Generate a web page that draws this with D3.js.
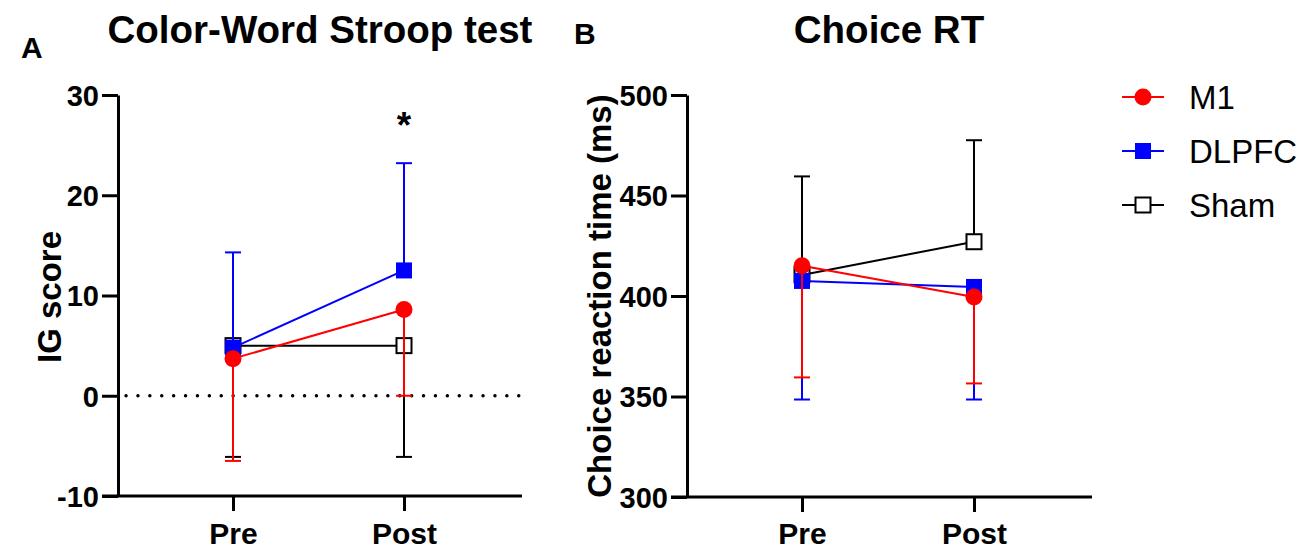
<!DOCTYPE html>
<html>
<head>
<meta charset="utf-8">
<script src="https://cdn.jsdelivr.net/npm/d3@7"></script>
<style>
  html, body { margin: 0; padding: 0; background: #fff; }
  svg text { font-family: "Liberation Sans", Arial, sans-serif; }
</style>
</head>
<body>
<svg id="chart" width="1299" height="550"></svg>
<script>
// Time points
const timepoints = ["Pre", "Post"];
const groups = ["M1", "DLPFC", "Sham"];

// Panel A: Color-Word Stroop interference (IG score), mean and one-sided SD
const stroopM1 = [3.7, 8.6];
const stroopM1Err = [-6.5, 0.0];
const stroopDLPFC = [4.8, 12.5];
const stroopDLPFCErr = [14.3, 23.2];
const stroopSham = [5.0, 5.0];
const stroopShamErr = [-6.1, -6.1];

// Panel B: Choice reaction time (ms)
const rtM1 = [415, 399.5];
const rtM1Err = [359.5, 356.5];
const rtDLPFC = [407.5, 404.5];
const rtDLPFCErr = [348.5, 348.5];
const rtSham = [410.5, 427];
const rtShamErr = [459.5, 477.5];

const stroopTicks = [-10, 0, 10, 20, 30];
const rtTicks = [300, 350, 400, 450, 500];

const colors = { M1: "#ff0000", DLPFC: "#0000ff", Sham: "#000000" };

const svg = d3.select("#chart");

function panel(opts) {
  const g = svg.append("g");
  const y = d3.scaleLinear().domain(opts.domain).range([opts.bottom, opts.top]);
  const x = d3.scalePoint().domain(timepoints).range([opts.pre, opts.post]);

  // y axis
  const yAxis = d3.axisLeft(y).tickValues(opts.ticks).tickFormat(d => String(d))
    .tickSize(16).tickPadding(3).tickSizeOuter(0);
  const ya = g.append("g").attr("transform", `translate(${opts.left},0)`).call(yAxis);
  ya.select(".domain").attr("stroke", "#000").attr("stroke-width", 3);
  ya.selectAll(".tick line").attr("stroke", "#000").attr("stroke-width", 3);
  ya.selectAll(".tick text").attr("font-size", 29).attr("font-weight", "bold").attr("fill", "#000")
    .attr("font-family", "Liberation Sans, Arial, sans-serif").attr("dy", "0.36em");

  // x axis
  const xAxis = d3.axisBottom(x).tickSize(15).tickSizeOuter(0);
  const xa = g.append("g").attr("transform", `translate(0,${opts.bottom})`).call(xAxis);
  xa.select(".domain").attr("d", `M${opts.left - 16},0H${opts.right}`).attr("stroke", "#000").attr("stroke-width", 3);
  xa.selectAll(".tick line").attr("stroke", "#000").attr("stroke-width", 3);
  xa.selectAll(".tick text").attr("font-size", 30).attr("font-weight", "bold").attr("fill", "#000")
    .attr("font-family", "Liberation Sans, Arial, sans-serif")
    .attr("y", 544 - opts.bottom).attr("dy", 0);

  // zero reference line
  if (opts.zeroLine) {
    g.append("line")
      .attr("x1", opts.left + 8).attr("x2", opts.right)
      .attr("y1", y(0)).attr("y2", y(0))
      .attr("stroke", "#000").attr("stroke-width", 3.4)
      .attr("stroke-linecap", "round").attr("stroke-dasharray", "0.1,11.8");
  }

  // series: draw Sham first, then DLPFC, M1 on top
  const capW = 8;
  opts.series.forEach(s => {
    const col = colors[s.name];
    const sg = g.append("g");
    // error bars
    s.values.forEach((v, i) => {
      const cx = x(timepoints[i]);
      sg.append("line").attr("x1", cx).attr("x2", cx)
        .attr("y1", y(v)).attr("y2", y(s.err[i]))
        .attr("stroke", col).attr("stroke-width", 2);
      sg.append("line").attr("x1", cx - capW).attr("x2", cx + capW)
        .attr("y1", y(s.err[i])).attr("y2", y(s.err[i]))
        .attr("stroke", col).attr("stroke-width", 2);
    });
    // connecting line
    sg.append("path")
      .datum(s.values)
      .attr("d", d3.line().x((d, i) => x(timepoints[i])).y(d => y(d)))
      .attr("fill", "none").attr("stroke", col).attr("stroke-width", 2);
    // markers
    s.values.forEach((v, i) => {
      drawMarker(sg, s.name, x(timepoints[i]), y(v));
    });
  });

  // title and panel letter
  g.append("text").attr("x", opts.titleX).attr("y", 43).attr("text-anchor", "middle")
    .attr("font-size", 38.5).attr("font-weight", "bold").text(opts.title);
  g.append("text").attr("x", opts.letterX).attr("y", opts.letterY)
    .attr("font-size", 30).attr("font-weight", "bold").text(opts.letter);

  // y axis label
  g.append("text")
    .attr("transform", `translate(${opts.ylabelX},${opts.ylabelY}) rotate(-90)`)
    .attr("text-anchor", "middle").attr("font-size", 33).attr("font-weight", "bold")
    .text(opts.ylabel);

  return { g, x, y };
}

function drawMarker(sel, name, cx, cy) {
  const col = colors[name];
  if (name === "M1") {
    sel.append("circle").attr("cx", cx).attr("cy", cy).attr("r", 8.5).attr("fill", col);
  } else if (name === "DLPFC") {
    sel.append("rect").attr("x", cx - 8).attr("y", cy - 8).attr("width", 16).attr("height", 16).attr("fill", col);
  } else {
    sel.append("rect").attr("x", cx - 7.5).attr("y", cy - 7.5).attr("width", 15).attr("height", 15)
      .attr("fill", "#fff").attr("stroke", col).attr("stroke-width", 2);
  }
}

const A = panel({
  domain: [-10, 30], ticks: stroopTicks, top: 95, bottom: 496,
  left: 118, right: 522, pre: 233, post: 404, zeroLine: true,
  series: [
    { name: "Sham", values: stroopSham, err: stroopShamErr },
    { name: "DLPFC", values: stroopDLPFC, err: stroopDLPFCErr },
    { name: "M1", values: stroopM1, err: stroopM1Err }
  ],
  title: "Color-Word Stroop test", titleX: 320, letter: "A", letterX: 21, letterY: 58,
  ylabel: "IG score", ylabelX: 61, ylabelY: 297
});

// significance marker above DLPFC Post
A.g.append("text").attr("x", A.x("Post")).attr("y", 138).attr("text-anchor", "middle")
  .attr("font-size", 37).attr("font-weight", "bold").text("*");

panel({
  domain: [300, 500], ticks: rtTicks, top: 95, bottom: 497,
  left: 687, right: 1092, pre: 802, post: 974, zeroLine: false,
  series: [
    { name: "Sham", values: rtSham, err: rtShamErr },
    { name: "DLPFC", values: rtDLPFC, err: rtDLPFCErr },
    { name: "M1", values: rtM1, err: rtM1Err }
  ],
  title: "Choice RT", titleX: 889, letter: "B", letterX: 574, letterY: 44,
  ylabel: "Choice reaction time (ms)", ylabelX: 611, ylabelY: 296
});

// legend
const legend = svg.append("g");
groups.forEach((name, i) => {
  const ly = 97 + i * 54;
  const lg = legend.append("g");
  lg.append("line").attr("x1", 1122).attr("x2", 1164).attr("y1", ly).attr("y2", ly)
    .attr("stroke", colors[name]).attr("stroke-width", 2);
  drawMarker(lg, name, 1143, ly);
  lg.append("text").attr("x", 1189).attr("y", ly).attr("dy", "0.36em")
    .attr("font-size", 33).text(name);
});
</script>
</body>
</html>
